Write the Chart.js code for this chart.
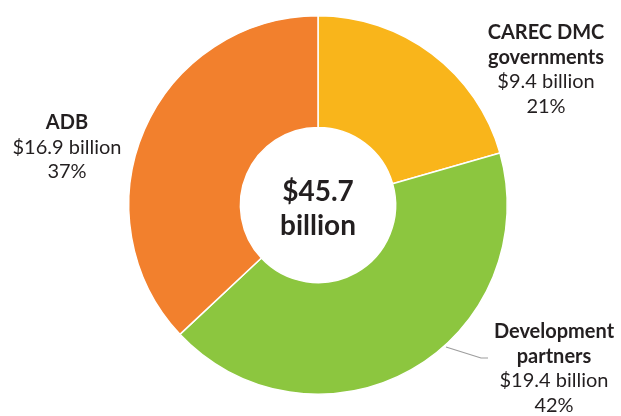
<!DOCTYPE html>
<html>
<head>
<meta charset="utf-8">
<script src="https://cdn.jsdelivr.net/npm/chart.js@4"></script>
<style>
  html, body { margin: 0; padding: 0; background: #fff; }
  canvas { display: block; }
</style>
</head>
<body>
<canvas id="canvas" width="621" height="416"></canvas>
<script>
'use strict';

const categories = ['CAREC DMC governments', 'Development partners', 'ADB'];
const amounts = [9.4, 19.4, 16.9];
const shares = ['21%', '42%', '37%'];
const colors = ['#F9B51B', '#8CC63F', '#F2802D'];
const total = '$45.7';

const ink = '#231F20';
const face = 'Lato, "Noto Sans", sans-serif';

// label blocks: [bold lines], then amount and share
const labelBlocks = [
  { x: 546, y: 33, bold: ['CAREC DMC', 'governments'], idx: 0 },
  { x: 554, y: 332, bold: ['Development', 'partners'], idx: 1 },
  { x: 67, y: 123, bold: ['ADB'], idx: 2 },
];

const labelsPlugin = {
  id: 'labels',
  afterDraw(chart) {
    const c = chart.ctx;
    const arc = chart.getDatasetMeta(0).data[0];
    c.save();
    c.textAlign = 'center';
    c.textBaseline = 'middle';
    c.fillStyle = ink;

    // centre total
    c.font = 'bold 28px ' + face;
    c.fillText(total, arc.x, arc.y - 13);
    c.fillText('billion', arc.x, arc.y + 21);

    // leader line for development partners
    c.strokeStyle = '#9D9D9D';
    c.lineWidth = 1.2;
    c.beginPath();
    c.moveTo(446, 347);
    c.lineTo(481, 358);
    c.lineTo(488, 358);
    c.stroke();

    labelBlocks.forEach(b => {
      let y = b.y;
      c.font = 'bold 20px ' + face;
      b.bold.forEach(t => { c.fillText(t, b.x, y); y += 24.5; });
      c.font = '20px ' + face;
      c.fillText('$' + amounts[b.idx] + ' billion', b.x, y); y += 24.5;
      c.fillText(shares[b.idx], b.x, y);
    });
    c.restore();
  },
};

new Chart(document.getElementById('canvas').getContext('2d'), {
  type: 'doughnut',
  data: {
    labels: categories,
    datasets: [{
      data: amounts,
      backgroundColor: colors,
      borderColor: '#ffffff',
      borderWidth: 1.5,
    }],
  },
  options: {
    responsive: false,
    animation: false,
    cutout: '41%',
    layout: { padding: { left: 15, right: 0, top: 15, bottom: 21 } },
    plugins: {
      legend: { display: false },
      tooltip: { enabled: false },
    },
  },
  plugins: [labelsPlugin],
});
</script>
</body>
</html>
